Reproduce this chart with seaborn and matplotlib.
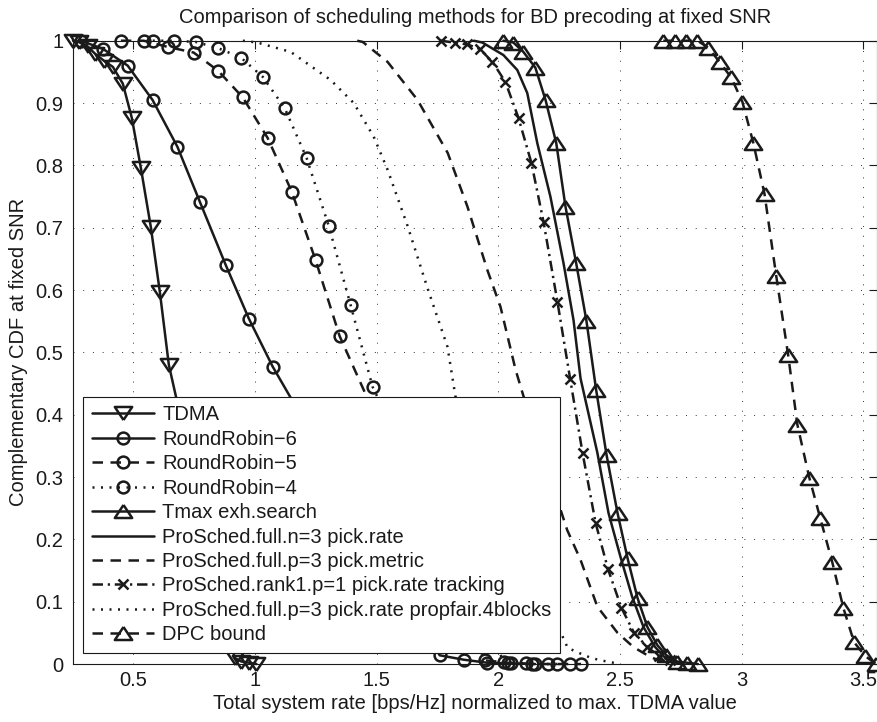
import matplotlib
matplotlib.use("Agg")
import matplotlib.pyplot as plt
import seaborn as sns

# ---- rate (normalized to max TDMA) vs. complementary CDF for each scheduler ----
tdma_x = [0.252, 0.275, 0.312, 0.343, 0.379, 0.416, 0.457, 0.494, 0.531, 0.572, 0.609, 0.646,
          0.916, 0.944, 0.977, 1.006]
tdma_y = [1.0, 0.998, 0.991, 0.979, 0.968, 0.958, 0.931, 0.876, 0.796, 0.701, 0.597, 0.480,
          0.010, 0.004, 0.002, 0.0]

rr6_x = [0.284, 0.375, 0.477, 0.579, 0.681, 0.773, 0.880, 0.975, 1.073,
         1.759, 1.857, 1.955, 2.053, 2.151]
rr6_y = [1.0, 0.987, 0.960, 0.905, 0.830, 0.742, 0.640, 0.554, 0.477,
         0.014, 0.007, 0.002, 0.001, 0.0]

rr5_x = [0.449, 0.543, 0.642, 0.748, 0.848, 0.950, 1.052, 1.151, 1.249, 1.348,
         1.944, 2.040, 2.140, 2.240, 2.340]
rr5_y = [1.0, 1.0, 0.990, 0.981, 0.952, 0.909, 0.844, 0.758, 0.648, 0.526,
         0.006, 0.002, 0.0, 0.0, 0.0]

rr4_x = [0.580, 0.666, 0.757, 0.849, 0.942, 1.032, 1.122, 1.212, 1.303, 1.393, 1.483,
         2.023, 2.113, 2.203, 2.293]
rr4_y = [1.0, 1.0, 0.998, 0.988, 0.973, 0.942, 0.892, 0.812, 0.703, 0.576, 0.445,
         0.003, 0.001, 0.0, 0.0]

tmax_x = [2.021, 2.062, 2.103, 2.152, 2.194, 2.238, 2.276, 2.320, 2.362, 2.402, 2.445,
          2.490, 2.531, 2.572, 2.613, 2.654, 2.691, 2.735, 2.776, 2.820]
tmax_y = [1.0, 0.997, 0.982, 0.957, 0.905, 0.836, 0.734, 0.643, 0.551, 0.440, 0.335,
          0.242, 0.170, 0.106, 0.059, 0.030, 0.014, 0.004, 0.002, 0.0]

full_rate_x = [1.900, 1.935, 2.021, 2.078, 2.119, 2.160, 2.214, 2.268, 2.309, 2.338, 2.407,
               2.453, 2.502, 2.550, 2.597, 2.645, 2.695, 2.750]
full_rate_y = [1.0, 0.997, 0.977, 0.953, 0.916, 0.836, 0.750, 0.643, 0.552, 0.458, 0.339,
               0.242, 0.172, 0.108, 0.059, 0.027, 0.006, 0.0]

metric_x = [1.420, 1.443, 1.545, 1.668, 1.792, 1.873, 1.955, 2.009, 2.071, 2.104, 2.283,
            2.338, 2.407, 2.490, 2.556, 2.626, 2.700]
metric_y = [1.0, 0.998, 0.966, 0.905, 0.820, 0.734, 0.632, 0.573, 0.472, 0.429, 0.215,
            0.167, 0.092, 0.050, 0.027, 0.011, 0.0]

rank1_x = [1.763, 1.820, 1.873, 1.923, 1.976, 2.029, 2.083, 2.136, 2.186, 2.243, 2.295,
           2.346, 2.400, 2.451, 2.506, 2.558, 2.613, 2.660, 2.707]
rank1_y = [1.0, 0.997, 0.994, 0.987, 0.966, 0.934, 0.876, 0.804, 0.709, 0.581, 0.458,
           0.339, 0.226, 0.152, 0.090, 0.050, 0.027, 0.013, 0.006]

propfair_x = [0.950, 1.010, 1.147, 1.311, 1.406, 1.488, 1.545, 1.627, 1.709, 1.791, 1.824,
              2.285, 2.330, 2.380, 2.420, 2.460, 2.500]
propfair_y = [1.0, 0.997, 0.982, 0.937, 0.900, 0.846, 0.793, 0.703, 0.603, 0.509, 0.429,
              0.026, 0.018, 0.010, 0.006, 0.003, 0.0]

dpc_x = [2.678, 2.728, 2.773, 2.818, 2.863, 2.909, 2.957, 3.003, 3.048, 3.094, 3.142, 3.191,
         3.229, 3.278, 3.323, 3.372, 3.418, 3.462, 3.507, 3.552]
dpc_y = [1.0, 1.0, 1.0, 1.0, 0.989, 0.966, 0.941, 0.902, 0.836, 0.754, 0.623, 0.496,
         0.384, 0.299, 0.234, 0.164, 0.090, 0.035, 0.013, 0.0]

labels = ["TDMA", "RoundRobin\u22126", "RoundRobin\u22125", "RoundRobin\u22124",
          "Tmax exh.search", "ProSched.full.n=3 pick.rate", "ProSched.full.p=3 pick.metric",
          "ProSched.rank1.p=1 pick.rate tracking",
          "ProSched.full.p=3 pick.rate propfair.4blocks", "DPC bound"]

x_ticks = [0.5, 1, 1.5, 2, 2.5, 3, 3.5]
x_tick_labels = ["0.5", "1", "1.5", "2", "2.5", "3", "3.5"]
y_ticks = [0, 0.1, 0.2, 0.3, 0.4, 0.5, 0.6, 0.7, 0.8, 0.9, 1.0]
y_tick_labels = ["0", "0.1", "0.2", "0.3", "0.4", "0.5", "0.6", "0.7", "0.8", "0.9", "1"]

# ---- styling ----
sns.set_theme(style="white")
FS = 14.5
plt.rcParams["font.family"] = ["Liberation Sans", "DejaVu Sans"]
plt.rcParams["font.size"] = FS
plt.rcParams["text.color"] = "k"
plt.rcParams["axes.labelcolor"] = "k"
plt.rcParams["xtick.color"] = "k"
plt.rcParams["ytick.color"] = "k"

SOLID = "-"
DASHED = (0, (4.2, 3.0))
DOTTED = (0, (0.8, 2.6))
DASHDOT = (0, (4.2, 1.9, 0.9, 1.9))

# wide, flat triangles
TRI_UP = [(0, 0.75), (-1, -0.75), (1, -0.75), (0, 0.75)]
TRI_DOWN = [(0, -0.75), (-1, 0.75), (1, 0.75), (0, -0.75)]

series = [
    (tdma_x, tdma_y, SOLID, TRI_DOWN, 12.5),
    (rr6_x, rr6_y, SOLID, "o", 8.5),
    (rr5_x, rr5_y, DASHED, "o", 8.5),
    (rr4_x, rr4_y, DOTTED, "o", 8.5),
    (tmax_x, tmax_y, SOLID, TRI_UP, 12.5),
    (full_rate_x, full_rate_y, SOLID, None, 0),
    (metric_x, metric_y, DASHED, None, 0),
    (rank1_x, rank1_y, DASHDOT, "x", 7),
    (propfair_x, propfair_y, DOTTED, None, 0),
    (dpc_x, dpc_y, DASHED, TRI_UP, 12.5),
]

fig = plt.figure(figsize=(8.78, 7.22), dpi=100)
ax = fig.add_axes([0.0831, 0.0803, 0.9157, 0.8633])

for (xs, ys, ls, mk, ms), lab in zip(series, labels):
    kws = dict(color="k", linewidth=1.8, linestyle=ls, label=lab, clip_on=False)
    if mk is not None:
        kws.update(marker=mk, markersize=ms, markeredgewidth=1.8,
                   markeredgecolor="k", markerfacecolor="none")
    sns.lineplot(x=xs, y=ys, ax=ax, sort=False, estimator=None, **kws)

ax.set_xlim(0.252, 3.556)
ax.set_ylim(0, 1)
ax.set_xticks(x_ticks)
ax.set_xticklabels(x_tick_labels)
ax.set_yticks(y_ticks)
ax.set_yticklabels(y_tick_labels)
ax.tick_params(direction="in", top=True, right=True, length=6, width=0.8,
               labelsize=FS, colors="k")
ax.tick_params(axis="x", pad=5)
ax.tick_params(axis="y", pad=7)
ax.grid(True, color="#333333", linewidth=0.7, linestyle=(0, (1, 9)))
for sp in ax.spines.values():
    sp.set_color("k")
    sp.set_linewidth(0.8)

ax.set_title("Comparison of scheduling methods for BD precoding at fixed SNR",
             fontsize=FS, pad=12.5, color="k")
ax.set_xlabel("Total system rate [bps/Hz] normalized to max. TDMA value", fontsize=FS,
              labelpad=3, color="k")
ax.set_ylabel("Complementary CDF at fixed SNR", fontsize=FS, labelpad=5, color="k")

handles, hlabels = ax.get_legend_handles_labels()
leg = ax.legend(handles, hlabels, loc="lower left", bbox_to_anchor=(0.013, 0.018),
                borderaxespad=0, fontsize=FS, numpoints=1, handlelength=3.1,
                handletextpad=0.4, labelspacing=0.27, borderpad=0.42,
                fancybox=False, framealpha=1, edgecolor="k", facecolor="white")
leg.get_frame().set_linewidth(0.8)
for t in leg.get_texts():
    t.set_color("k")

fig.savefig("out.png", dpi=100)
